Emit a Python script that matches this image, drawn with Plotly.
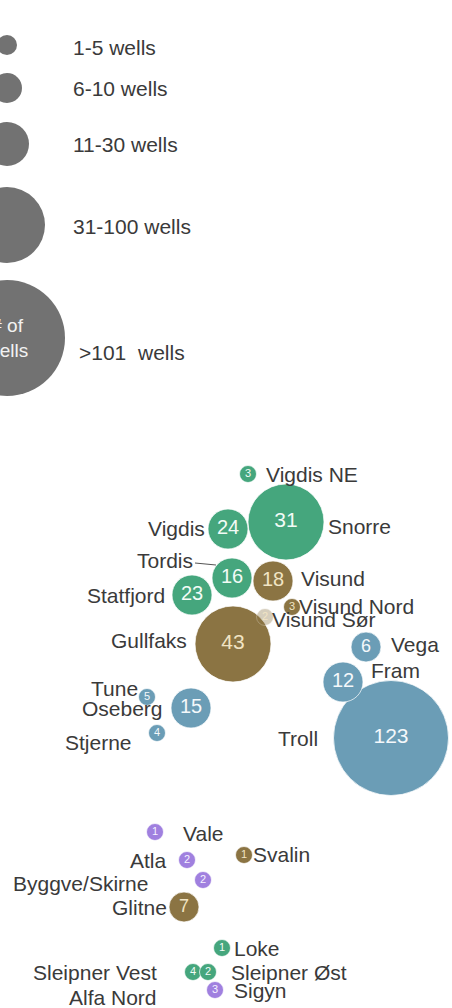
import plotly.graph_objects as go

# ---------------- data ----------------
fields = ["Vigdis NE", "Snorre", "Vigdis", "Tordis", "Statfjord", "Loke", "Sleipner Vest", "Sleipner Øst",
          "Visund", "Visund Nord", "Visund Sør", "Gullfaks", "Svalin", "Glitne",
          "Vega", "Fram", "Troll", "Tune", "Oseberg", "Stjerne",
          "Vale", "Atla", "Byggve/Skirne", "Sigyn"]
wells = [3, 31, 24, 16, 23, 1, 4, 2,
         18, 3, 2, 43, 1, 7,
         6, 12, 123, 5, 15, 4,
         1, 2, 2, 3]
group = ["green"] * 8 + ["brown"] * 6 + ["blue"] * 6 + ["purple"] * 4
# schematic map position of each field
map_x = [248, 286, 228, 232, 192, 222, 193, 208,
         273, 292, 265, 233, 244, 184,
         366, 343, 391, 147, 191, 157,
         155, 187, 203, 215]
map_y = [474, 522, 529, 578, 595, 948, 972, 972,
         581, 607, 617, 644, 855, 907,
         647, 682, 738, 697, 708, 733,
         832, 860, 880, 990]
# label placement
label_x = [265, 327, 206, 194, 166, 233, 158, 230,
           300, 298, 271, 188, 252, 168,
           390, 370, 319, 139, 164, 133,
           182, 168, 149, 233]
label_y = [474, 526, 528, 560, 595, 948, 972, 972,
           578, 606, 619, 640, 854, 907,
           644, 670, 738, 688, 708, 742,
           833, 860, 883, 990]
label_side = ["left", "left", "right", "right", "right", "left", "right", "left",
              "left", "left", "left", "right", "left", "right",
              "left", "left", "right", "right", "right", "right",
              "left", "right", "right", "left"]
extra_labels = ["Alfa Nord"]
extra_x = [158]
extra_y = [997]

legend_labels = ["1-5 wells", "6-10 wells", "11-30 wells", "31-100 wells", ">101  wells"]
legend_y = [45, 88, 144, 225, 338]
legend_text_y = [47, 88, 144, 226, 352]
class_limits = [5, 10, 30, 100]

# ---------------- styles ----------------
colors = {"green": "#45a67d", "brown": "#8b7443", "blue": "#6b9db6", "purple": "#a080df"}
num_colors = {"green": "#f2fbf6", "brown": "#f1e4c4", "blue": "#f4f8fb", "purple": "#f6f2ff"}
class_diam = [17, 30, 40, 76, 115]
class_font = [11, 18, 20, 21, 21]
legend_diam = [20, 30, 44, 76, 116]
FONT = "Liberation Sans, Arial, sans-serif"
LABEL_SIZE = 21
W, H = 452, 1008


def size_class(n):
    for i, lim in enumerate(class_limits):
        if n <= lim:
            return i
    return len(class_limits)


fig = go.Figure()

# legend circles
fig.add_trace(go.Scatter(
    x=[7] * len(legend_y), y=legend_y, mode="markers",
    marker=dict(size=legend_diam, color="#727272", opacity=1, line=dict(width=0)),
    hoverinfo="skip", showlegend=False))

# bubbles (largest first so small ones sit on top)
order = sorted(range(len(fields)), key=lambda i: -wells[i])
cls = [size_class(wells[i]) for i in order]
opac = [0.35 if fields[i] == "Visund Sør" else 1 for i in order]
fig.add_trace(go.Scatter(
    x=[map_x[i] for i in order], y=[map_y[i] for i in order],
    mode="markers+text",
    text=[str(wells[i]) for i in order],
    textposition="middle center",
    textfont=dict(family=FONT, size=[class_font[c] for c in cls],
                  color=[num_colors[group[i]] for i in order]),
    marker=dict(size=[class_diam[c] for c in cls],
                color=[colors[group[i]] for i in order],
                opacity=opac,
                line=dict(width=1, color="rgba(255,255,255,0.7)")),
    hovertext=[fields[i] for i in order], hoverinfo="text", showlegend=False))

annotations = []
for i, name in enumerate(fields):
    annotations.append(dict(
        x=label_x[i], y=label_y[i], xref="x", yref="y", text=name, showarrow=False,
        xanchor=label_side[i], yanchor="middle", borderpad=0,
        font=dict(family=FONT, size=LABEL_SIZE, color="#3a3a3a")))
for t, x, y in zip(extra_labels, extra_x, extra_y):
    annotations.append(dict(
        x=x, y=y, xref="x", yref="y", text=t, showarrow=False,
        xanchor="right", yanchor="middle", borderpad=0,
        font=dict(family=FONT, size=LABEL_SIZE, color="#3a3a3a")))
for t, y in zip(legend_labels, legend_text_y):
    annotations.append(dict(
        x=72 if not t.startswith(">") else 78, y=y, xref="x", yref="y", text=t, showarrow=False,
        xanchor="left", yanchor="middle", borderpad=0,
        font=dict(family=FONT, size=LABEL_SIZE, color="#3a3a3a")))
annotations.append(dict(
    x=6, y=338, xref="x", yref="y", text="# of<br>wells", showarrow=False,
    xanchor="center", yanchor="middle", borderpad=0, align="center",
    font=dict(family=FONT, size=19, color="#f2f2f2")))

fig.update_layout(
    width=W, height=H,
    margin=dict(l=0, r=0, t=0, b=0),
    paper_bgcolor="white", plot_bgcolor="white",
    xaxis=dict(range=[0, W], visible=False, fixedrange=True),
    yaxis=dict(range=[H, 0], visible=False, fixedrange=True),
    annotations=annotations,
    shapes=[dict(type="line", xref="x", yref="y", x0=195, y0=563, x1=216, y1=565,
                 line=dict(color="#555555", width=1))],
)

fig.write_html("out.html",
               config={"displayModeBar": False},
               post_script="document.body.style.margin='0px';document.body.style.overflow='hidden';")
